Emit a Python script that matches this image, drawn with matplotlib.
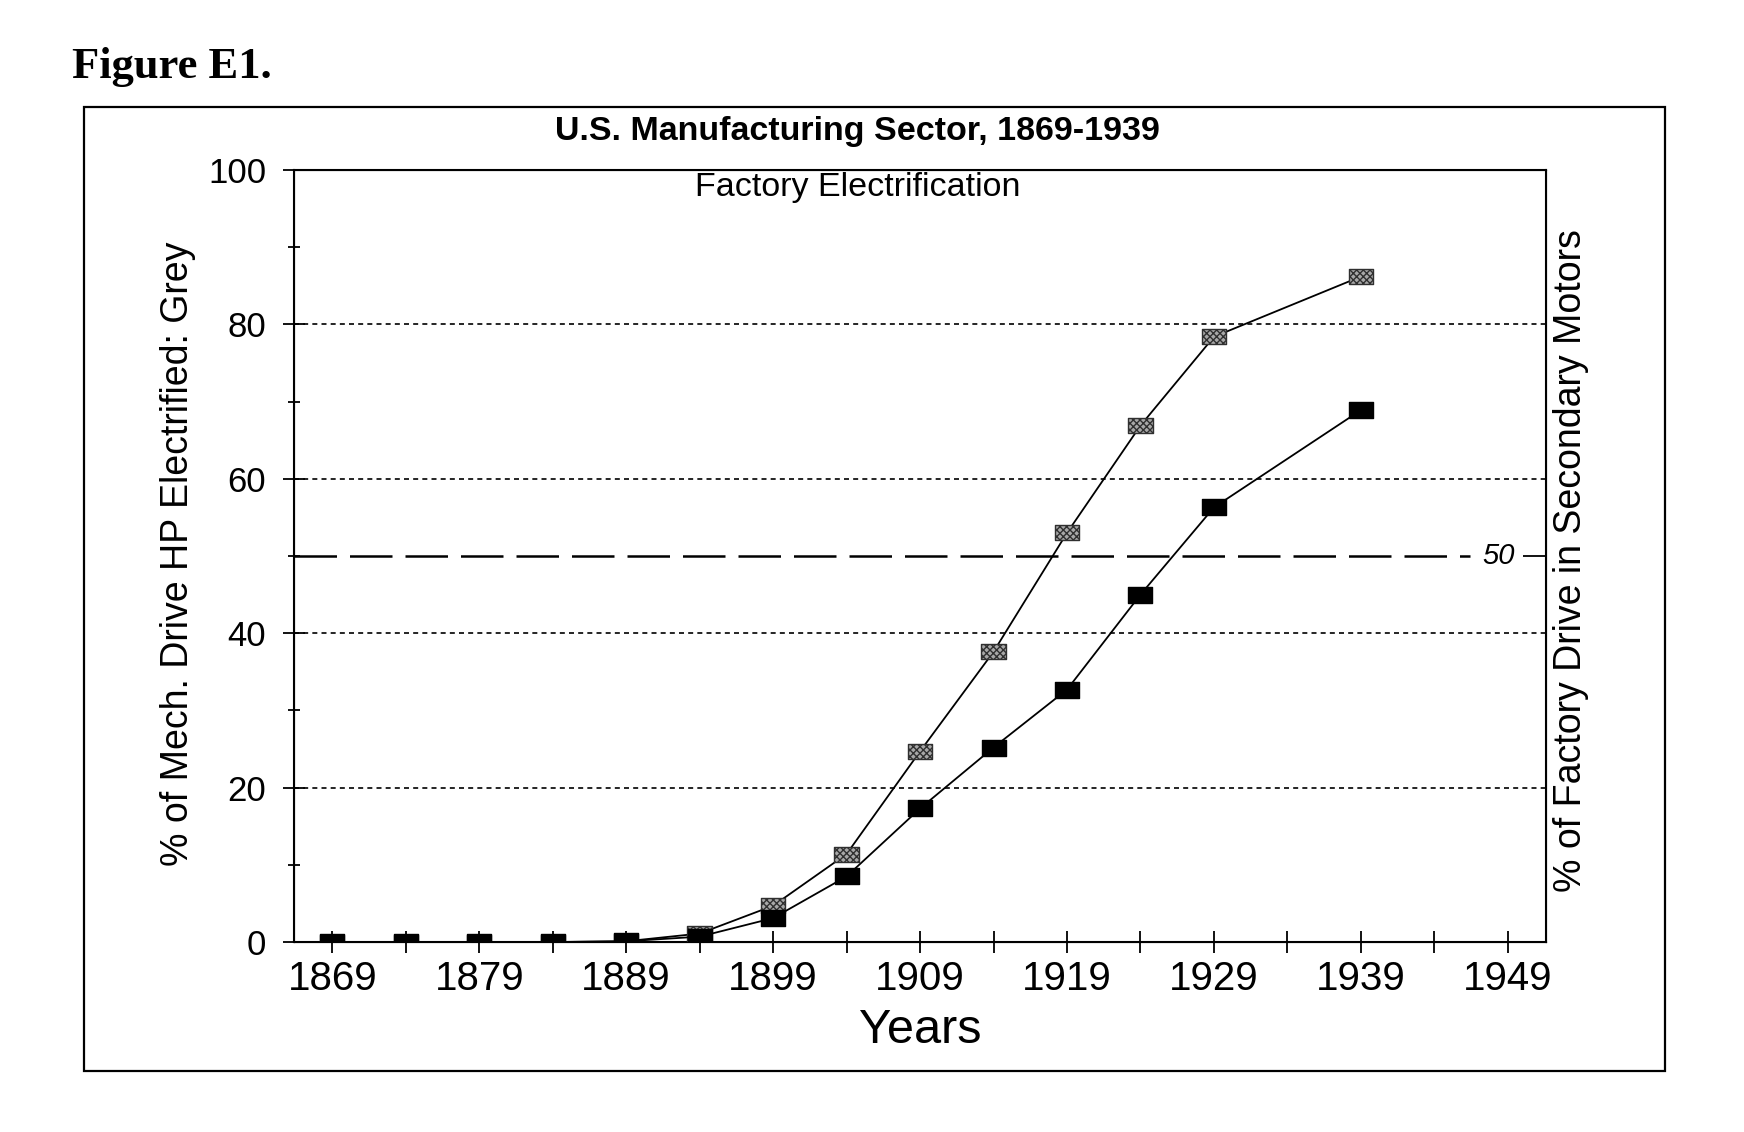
import matplotlib
matplotlib.use("Agg")
import matplotlib.pyplot as plt
from matplotlib.patches import Rectangle
from matplotlib.path import Path
from matplotlib.ticker import MultipleLocator, FixedLocator

# data
years = [1869, 1874, 1879, 1884, 1889, 1894, 1899, 1904, 1909, 1914, 1919, 1924, 1929, 1939]
grey_hp = [0, 0, 0, 0, 0.1, 1.1, 4.7, 11.4, 24.7, 37.6, 53.0, 66.9, 78.4, 86.2]
black_motors = [0, 0, 0, 0, 0.1, 0.7, 3.1, 8.5, 17.3, 25.2, 32.7, 45.0, 56.3, 68.9]
grid_levels = [20, 40, 60, 80]
half_level = 50
x_labels = [1869, 1879, 1889, 1899, 1909, 1919, 1929, 1939, 1949]
x_minor = [1874, 1884, 1894, 1904, 1914, 1924, 1934, 1944]

sans = ['Liberation Sans', 'DejaVu Sans']

# flat rectangular marker like the original
rect = Path([(-1, -0.62), (1, -0.62), (1, 0.62), (-1, 0.62), (-1, -0.62)],
            [Path.MOVETO, Path.LINETO, Path.LINETO, Path.LINETO, Path.CLOSEPOLY])

fig = plt.figure(figsize=(17.44, 11.32), dpi=100)
ax = fig.add_axes([0.1686, 0.1678, 0.7179, 0.682])

# reference lines
for g in grid_levels:
    ax.axhline(g, color='black', lw=1.2, ls=(0, (3, 2.5)), zorder=1)
ax.axhline(half_level, xmax=0.939, color='black', lw=1.8, ls=(0, (17, 5.2)), zorder=1)

ax.plot(years, grey_hp, color='black', lw=1.3, zorder=2)
ax.scatter(years, grey_hp, marker=rect, s=17.5 ** 2, facecolor='#a8a8a8',
           edgecolor='#303030', linewidth=1.0, hatch='xxxxx', zorder=3)
ax.plot(years, black_motors, color='black', lw=1.3, marker=rect, markersize=17.5,
        markerfacecolor='black', markeredgecolor='black', zorder=4)

ax.set_xlim(1866.4, 1951.6)
ax.set_ylim(0, 100)
ax.xaxis.set_major_locator(FixedLocator(x_labels))
ax.xaxis.set_minor_locator(FixedLocator(x_minor))
ax.set_xticklabels([str(y) for y in x_labels], family=sans, fontsize=29)
ax.yaxis.set_major_locator(MultipleLocator(20))
ax.yaxis.set_minor_locator(MultipleLocator(10))
for lab in ax.get_yticklabels():
    lab.set_family(sans)
    lab.set_fontsize(25)
ax.tick_params(axis='x', which='both', direction='inout', length=16.5, width=1.3, pad=5)
ax.tick_params(axis='y', which='major', direction='inout', length=16, width=1.3, pad=12)
ax.tick_params(axis='y', which='minor', direction='inout', length=8.6, width=1.3)
for s in ax.spines.values():
    s.set_linewidth(1.5)

ax.set_xlabel('Years', family=sans, fontsize=35)
ax.xaxis.set_label_coords(0.5, -0.085)

ax2 = ax.twinx()
ax2.set_ylim(0, 100)
ax2.set_yticks([half_level])
ax2.tick_params(axis='y', direction='in', length=16.7, width=1.3, labelright=False)
ax2.text(0.975, half_level, '50', transform=ax2.get_yaxis_transform(), ha='right',
         va='center', style='italic', family=sans, fontsize=21)

fig.text(0.102, 0.511, '% of Mech. Drive HP Electrified: Grey', rotation=90,
         ha='center', va='center', family=sans, fontsize=27)
fig.text(0.901, 0.505, '% of Factory Drive in Secondary Motors', rotation=90,
         ha='center', va='center', family=sans, fontsize=27)
fig.text(0.4917, 0.884, 'U.S. Manufacturing Sector, 1869-1939', ha='center', va='center',
         family=sans, fontsize=24.5, fontweight='bold')
fig.text(0.4917, 0.8345, 'Factory Electrification', ha='center', va='center',
         family=sans, fontsize=24.5)
fig.text(0.041, 0.941, 'Figure E1.', ha='left', va='center',
         family=['Liberation Serif', 'DejaVu Serif'], fontsize=32, fontweight='bold')

fig.patches.append(Rectangle((0.0479, 0.054), 0.9068, 0.8515, transform=fig.transFigure,
                             fill=False, edgecolor='black', lw=1.6))

fig.savefig('out.png', dpi=100)
